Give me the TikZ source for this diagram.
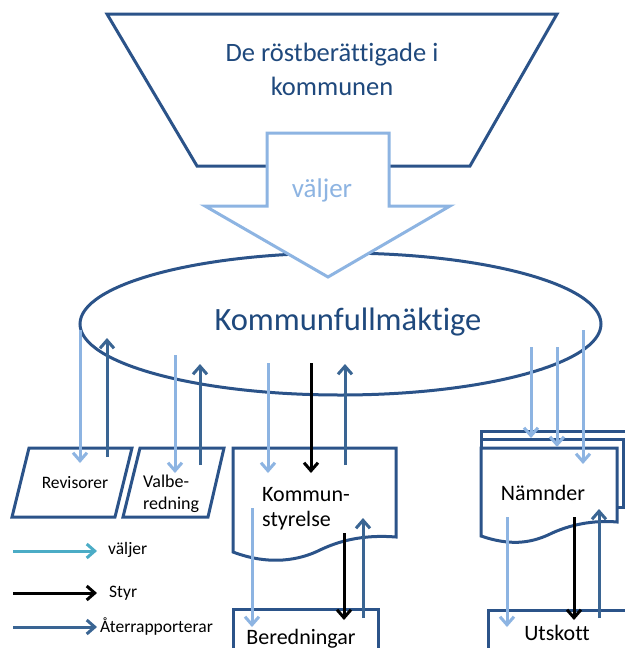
\documentclass[tikz,border=0pt]{standalone}
\usepackage{fontspec}
\setmainfont{Carlito}[Ligatures={NoCommon,NoRequired,NoContextual}]
\usetikzlibrary{arrows.meta}
\definecolor{dblue}{HTML}{2B5389}
\definecolor{tblue}{HTML}{1F497D}
\definecolor{lblue}{HTML}{8DB4E2}
\definecolor{rblue}{HTML}{3A6593}
\definecolor{teal}{HTML}{4BACC6}
\tikzset{
  shapeline/.style={draw=dblue, line width=3pt, line join=miter, fill=white},
  arr/.style={line width=3pt, -{Straight Barb[length=8pt,width=14pt,line width=3pt]}},
  valj/.style={arr, draw=lblue},
  styr/.style={arr, draw=black},
  ater/.style={arr, draw=rblue},
  lbl/.style={inner sep=0pt, font=\fontsize{17.5}{21}\selectfont, text=black},
  big/.style={inner sep=0pt, font=\fontsize{22}{25}\selectfont, text=black},
}
\begin{document}
\begin{tikzpicture}[x=1pt,y=-1pt]
\useasboundingbox (0,0) rectangle (624,648);
% trapezoid
\draw[shapeline] (107,14) -- (557,14) -- (470,166) -- (197,166) -- cycle;
\node[align=center, text=tblue, font=\fontsize{26.5}{34}\selectfont, inner sep=0pt] (rost) at (332,69) {De röstberättigade i\\kommunen};
% ellipse
\draw[shapeline] (340.5,324) ellipse [x radius=260.5, y radius=71];
\node[text=tblue, font=\fontsize{32.5}{36}\selectfont, inner sep=0pt] (kf) at (348,322) {Kommunfullmäktige};
% block arrow
\draw[draw=lblue, line width=3pt, fill=white, line join=miter] (267,133) -- (389,133) -- (389,206) -- (450,206) -- (328,277) -- (205,206) -- (267,206) -- cycle;
\node[text=lblue, font=\fontsize{27}{30}\selectfont, inner sep=0pt] (valjer) at (322,190) {väljer};
% parallelograms
\draw[shapeline] (29,448) -- (132,448) -- (115,517) -- (12,517) -- cycle;
\node[lbl] (rev) at (75,483) {Revisorer};
\draw[shapeline] (140,448) -- (224,448) -- (208,517) -- (123,517) -- cycle;
\node[lbl, align=left, anchor=west, font=\fontsize{18}{22}\selectfont] (valb) at (143,494) {Valbe-\\redning};
% Kommunstyrelse document
\draw[shapeline] (233,448) -- (396,448) -- (396,537) .. controls (370,535) and (345,538) .. (320,550) .. controls (300,560) and (270,566) .. (233,552) -- cycle;
\node[big, align=left, anchor=west] (ks) at (262,509) {Kommun-\\styrelse};
% Beredningar
\draw[shapeline] (233,660) -- (233,609) -- (378,609) -- (378,660);
\node[big] (ber) at (301,639) {Beredningar};
% Nämnder multidocument
\draw[shapeline] (481,448) -- (481,431) -- (630,431);
\draw[shapeline] (481,439) -- (623,439) -- (623,507) -- (617,507);
\draw[shapeline] (481,448) -- (617,448) -- (617,522) .. controls (595,520) and (570,524) .. (548,535) .. controls (530,543) and (510,546) .. (481,536) -- cycle;
\node[big] (nam) at (543,493) {Nämnder};
% Utskott
\draw[shapeline] (488,660) -- (488,610) -- (630,610);
\node[big] (uts) at (557,633) {Utskott};
% arrow coordinates
\coordinate (a1s) at (80,330);  \coordinate (a1e) at (80,463);
\coordinate (a2s) at (107,457); \coordinate (a2e) at (107,338);
\coordinate (a3s) at (175,355); \coordinate (a3e) at (175,473);
\coordinate (a4s) at (200,465); \coordinate (a4e) at (200,364);
\coordinate (a5s) at (268,363); \coordinate (a5e) at (268,473);
\coordinate (a6s) at (311,363); \coordinate (a6e) at (311,473);
\coordinate (a7s) at (345,465); \coordinate (a7e) at (345,364);
\coordinate (a8s) at (252,508); \coordinate (a8e) at (252,627);
\coordinate (a9s) at (344,533); \coordinate (a9e) at (344,620);
\coordinate (a10s) at (363,618); \coordinate (a10e) at (363,518);
\coordinate (a11s) at (531,347); \coordinate (a11e) at (531,438);
\coordinate (a12s) at (557,347); \coordinate (a12e) at (557,447);
\coordinate (a13s) at (583,330); \coordinate (a13e) at (583,464);
\coordinate (a14s) at (507,517); \coordinate (a14e) at (507,627);
\coordinate (a15s) at (574,517); \coordinate (a15e) at (574,620);
\coordinate (a16s) at (599,618); \coordinate (a16e) at (599,509);
\draw[valj] (a1s) -- (a1e);
\draw[ater] (a2s) -- (a2e);
\draw[valj] (a3s) -- (a3e);
\draw[ater] (a4s) -- (a4e);
\draw[valj] (a5s) -- (a5e);
\draw[styr] (a6s) -- (a6e);
\draw[ater] (a7s) -- (a7e);
\draw[valj] (a8s) -- (a8e);
\draw[styr] (a9s) -- (a9e);
\draw[ater] (a10s) -- (a10e);
\draw[valj] (a11s) -- (a11e);
\draw[valj] (a12s) -- (a12e);
\draw[valj] (a13s) -- (a13e);
\draw[valj] (a14s) -- (a14e);
\draw[styr] (a15s) -- (a15e);
\draw[ater] (a16s) -- (a16e);
% legend
\coordinate (l1s) at (13,551); \coordinate (l1e) at (97,551);
\coordinate (l2s) at (13,593); \coordinate (l2e) at (97,593);
\coordinate (l3s) at (13,627); \coordinate (l3e) at (97,627);
\draw[arr, draw=teal] (l1s) -- (l1e);
\draw[styr] (l2s) -- (l2e);
\draw[ater] (l3s) -- (l3e);
\node[lbl, anchor=west] (lv) at (108,550) {väljer};
\node[lbl, anchor=west] (ls) at (109,593) {Styr};
\node[lbl, anchor=west] (la) at (100,626) {Återrapporterar};
\end{tikzpicture}
\end{document}
